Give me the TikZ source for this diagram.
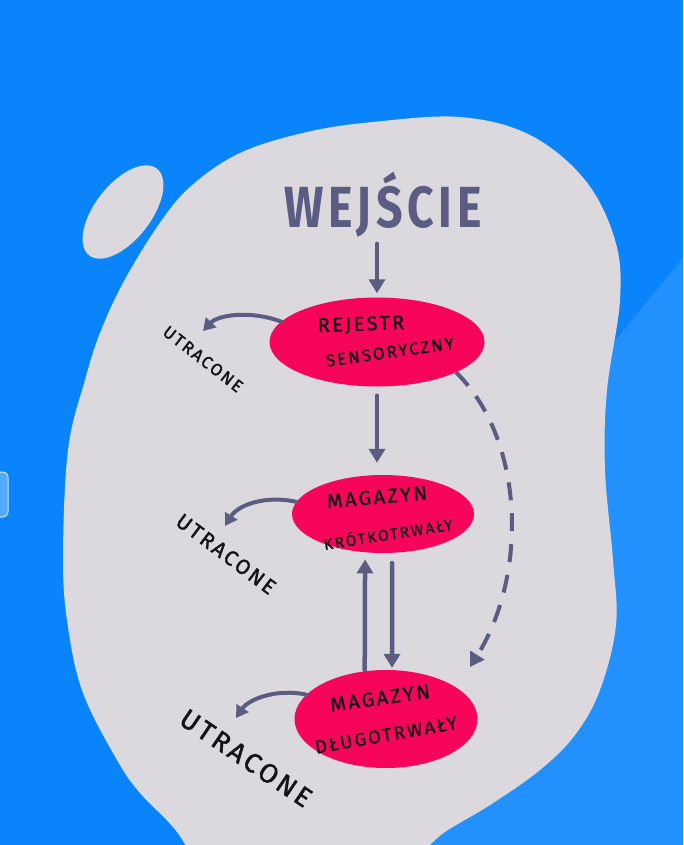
\documentclass[tikz,border=0pt]{standalone}
\usepackage{fontspec}
\usetikzlibrary{arrows.meta,shapes.geometric}
\newfontfamily\hand[LetterSpace=12,FakeBold=1.2]{Fira Sans}
\newfontfamily\handlost[LetterSpace=12,FakeBold=1.5]{Fira Sans}
\newfontfamily\handtitle[LetterSpace=10]{Fira Sans}
\definecolor{bgdark}{HTML}{0A84FB}
\definecolor{bglight}{HTML}{2391FD}
\definecolor{blobgrey}{HTML}{DCD9DE}
\definecolor{pinkfill}{HTML}{F7055A}
\definecolor{slate}{HTML}{5A5C82}
\definecolor{inkblack}{HTML}{141216}
\tikzset{
  pinkbox/.style={ellipse, fill=pinkfill, inner sep=0},
  arr/.style={draw=slate, line width=4.5pt, line cap=round, -{Triangle[length=14pt,width=16pt]}},
  lossarr/.style={draw=slate, line width=4pt, line cap=round, -{Triangle[length=12pt,width=14pt]}},
  dasharr/.style={draw=slate, line width=4pt, dash pattern=on 18pt off 13pt, -{Triangle[length=14pt,width=16pt]}},
  lbl/.style={text=inkblack, inner sep=0},
}
\begin{document}
\begin{tikzpicture}[x=1pt,y=-1pt]
\useasboundingbox (0,0) rectangle (683,845);
% background
\fill[bgdark] (0,0) rectangle (683,845);
\fill[bglight] (683,258) -- (683,845) -- (200,845) -- cycle;
\fill[fill=bgdark!70!white, draw=white!80!bgdark, line width=1pt, rounded corners=5pt] (-12,472) rectangle (8,517);
% big blob
\fill[blobgrey] plot[smooth cycle, tension=0.6] coordinates {
 (460,117) (530,135) (585,180) (615,240) (620,300) (607,390) (605,470)
 (613,560) (616,625) (600,690) (575,735) (540,770) (490,805) (445,832)
 (405,862) (300,905) (215,878) (173,827) (140,793) (117,760) (83,693)
 (68,627) (63,560) (68,450) (85,380) (100,333) (123,283) (157,227)
 (190,187) (240,153) (307,132) (373,122)};
% small blob
\fill[blobgrey, rotate around={52:(123,212)}] (123,212) ellipse [x radius=55pt, y radius=28pt];
% title
\node[lbl, text=slate, font={\handtitle\bfseries\fontsize{58}{58}\selectfont}] (wej) at (383,205) {\scalebox{0.8}[1]{WEJŚCIE}};
% pink nodes
\node[pinkbox, minimum width=215pt, minimum height=89pt] (rs) at (377,342) {};
\node[pinkbox, minimum width=182pt, minimum height=78pt] (mk) at (383,514) {};
\node[pinkbox, minimum width=183pt, minimum height=98pt] (md) at (386,719) {};
% labels inside
\node[lbl, font={\hand\fontsize{20}{20}\selectfont}, rotate=2] (rs1) at (361,325) {REJESTR};
\node[lbl, font={\hand\fontsize{17}{17}\selectfont}, rotate=8] (rs2) at (390,352) {SENSORYCZNY};
\node[lbl, font={\hand\fontsize{20}{20}\selectfont}, rotate=5] (mk1) at (377,497) {MAGAZYN};
\node[lbl, font={\hand\fontsize{15.5}{15.5}\selectfont}, rotate=9] (mk2) at (388,533) {KRÓTKOTRWAŁY};
\node[lbl, font={\hand\fontsize{20}{20}\selectfont}, rotate=8] (md1) at (380,698) {MAGAZYN};
\node[lbl, font={\hand\fontsize{18.5}{18.5}\selectfont}, rotate=10] (md2) at (386,735) {DŁUGOTRWAŁY};
% lost labels
\node[lbl, font={\handlost\fontsize{17}{17}\selectfont}, rotate=-38] (u1) at (203,359) {UTRACONE};
\node[lbl, font={\handlost\fontsize{21}{21}\selectfont}, rotate=-37] (u2) at (226,554) {UTRACONE};
\node[lbl, font={\handlost\fontsize{27}{27}\selectfont}, rotate=-34] (u3) at (246,758) {UTRACONE};
% free ends
\coordinate (l1) at (203,331);
\coordinate (l2) at (225,526);
\coordinate (l3) at (236,718);
\coordinate (dtip) at (470,667);
% arrows
\draw[arr, shorten <=6pt, shorten >=4pt] (wej.south -| rs.north) -- (rs.north);
\draw[arr, shorten <=9pt, shorten >=12pt] (rs.south) -- (rs.south |- mk.north);
\draw[arr, shorten <=1pt, shorten >=7pt] (md.114) -- (mk.245);
\draw[arr, shorten <=10pt, shorten >=2pt] (mk.283) -- (md.83);
\draw[dasharr] (rs.-21) .. controls (525,440) and (528,575) .. (dtip);
\draw[lossarr] (rs.168) .. controls (250,310) and (218,315) .. (l1);
\draw[lossarr] (mk.172) .. controls (265,495) and (238,505) .. (l2);
\draw[lossarr] (md.163) .. controls (275,688) and (248,700) .. (l3);
\end{tikzpicture}
\end{document}
